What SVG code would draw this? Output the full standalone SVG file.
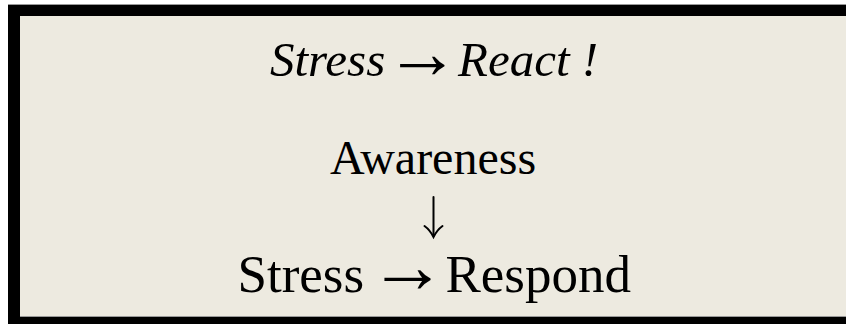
<svg xmlns="http://www.w3.org/2000/svg" width="846" height="324" viewBox="0 0 846 324">
  <style>
    .t { font-family: "Liberation Serif", "Times New Roman", serif; fill: #000; }
    .it { font-style: italic; }
    .arr { font-style: normal; }
    .conn { fill: none; stroke: #000; stroke-width: 2; stroke-linecap: round; }
  </style>
  <rect x="0" y="0" width="846" height="324" fill="#ffffff"/>
  <g id="frame">
    <rect x="8" y="4" width="846" height="330" fill="#000000"/>
    <line x1="8" y1="4.5" x2="846" y2="4.5" stroke="#999999" stroke-width="1"/>
    <rect x="20" y="16" width="830" height="300" fill="#EDEAE0"/>
    <line x1="20" y1="316.5" x2="846" y2="316.5" stroke="#999999" stroke-width="1"/>
  </g>
  <g id="title">
    <text class="t it" y="76" font-size="49"><tspan x="270">Stress</tspan><tspan class="arr" x="385" y="78" font-size="75">→</tspan><tspan x="458" y="76">React !</tspan></text>
  </g>
  <g id="awareness">
    <text class="t" x="433" y="174" font-size="48" text-anchor="middle">Awareness</text>
  </g>
  <g id="connectors">
    <path class="conn" d="M433.5 197 L433.5 236"/>
    <path class="conn" d="M424.5 226 Q430 230 433.5 237 Q437 230 442.5 226"/>
  </g>
  <g id="respond">
    <text class="t" y="292" font-size="53"><tspan x="237.5">Stress</tspan><tspan x="368.5" y="292" font-size="78">→</tspan><tspan x="445.5" y="292">Respond</tspan></text>
  </g>
</svg>
